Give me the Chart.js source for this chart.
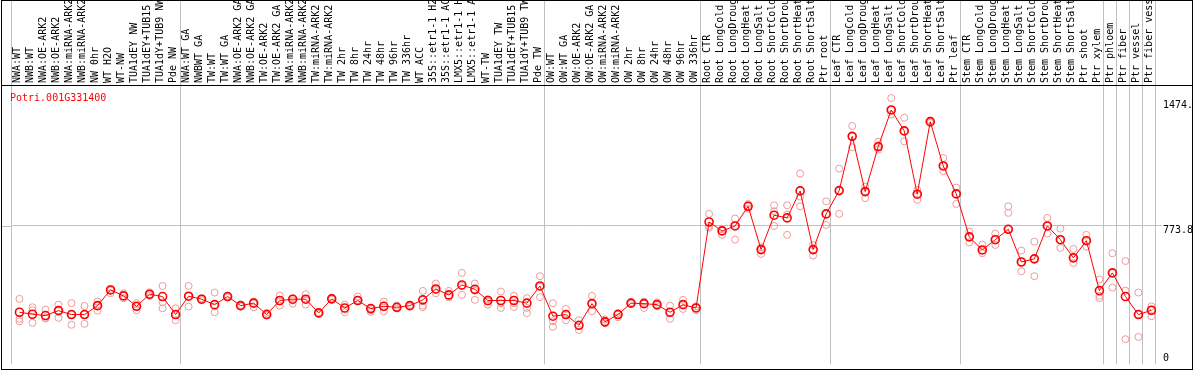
<!DOCTYPE html>
<html>
<head>
<meta charset="utf-8">
<script src="https://cdn.jsdelivr.net/npm/chart.js@4.4.1/dist/chart.umd.min.js"></script>
<style>
  html, body { margin: 0; padding: 0; background: #fff; }
  canvas { display: block; }
</style>
</head>
<body>
<canvas id="chart" width="1194" height="370"></canvas>
<script>
let geneName = "Potri.001G331400";

let sampleLabels = [
  "NWA:WT", "NWB:WT", "NWA:OE-ARK2", "NWB:OE-ARK2", "NWA:miRNA-ARK2", "NWB:miRNA-ARK2",
  "NW 0hr", "WT H2O", "WT-NW", "TUA1dEY NW", "TUA1dEY+TUB15", "TUA1dY+TUB9 NW", "Pde NW",
  "NWA:WT GA", "NWBWT GA", "TW:WT", "TW:WT GA", "NWA:OE-ARK2 GA", "NWB:OE-ARK2 GA",
  "TW:OE-ARK2", "TW:OE-ARK2 GA", "NWA:miRNA-ARK2", "NWB:miRNA-ARK2", "TW:miRNA-ARK2",
  "TW:miRNA-ARK2", "TW 2hr", "TW 8hr", "TW 24hr", "TW 48hr", "TW 96hr", "TW 336hr",
  "WT ACC", "35S::etr1-1 H2", "35S::etr1-1 AC", "LMX5::etr1-1 H", "LMX5::etr1-1 A",
  "WT-TW", "TUA1dEY TW", "TUA1dEY+TUB15", "TUA1dY+TUB9 TW", "Pde TW",
  "OW:WT", "OW:WT GA", "OW:OE-ARK2", "OW:OE-ARK2 GA", "OW:miRNA-ARK2", "OW:miRNA-ARK2",
  "OW 2hr", "OW 8hr", "OW 24hr", "OW 48hr", "OW 96hr", "OW 336hr",
  "Root CTR", "Root LongCold", "Root LongDroug", "Root LongHeat", "Root LongSalt",
  "Root ShortCold", "Root ShortDrou", "Root ShortHeat", "Root ShortSalt", "Ptr root",
  "Leaf CTR", "Leaf LongCold", "Leaf LongDroug", "Leaf LongHeat", "Leaf LongSalt",
  "Leaf ShortCold", "Leaf ShortDrou", "Leaf ShortHeat", "Leaf ShortSalt", "Ptr leaf",
  "Stem CTR", "Stem LongCold", "Stem LongDroug", "Stem LongHeat", "Stem LongSalt",
  "Stem ShortCold", "Stem ShortDrou", "Stem ShortHeat", "Stem ShortSalt", "Ptr shoot",
  "Ptr xylem", "Ptr phloem", "Ptr fiber", "Ptr vessel", "Ptr fiber vess"
];

// first sample of each block (vertical separators)
let groupStarts = [0, 13, 41, 53, 63, 73, 84, 85, 86, 87];

let meanValues = [
  250, 238, 230, 260, 236, 236, 290, 385, 349, 286,
  359, 345, 236, 347, 329, 296, 345, 290, 305, 236,
  321, 329, 329, 246, 331, 276, 321, 272, 286, 280,
  290, 325, 391, 355, 415, 389, 321, 321, 321, 305,
  409, 226, 236, 171, 302, 192, 236, 305, 302, 296,
  250, 296, 276, 796, 742, 772, 891, 629, 837, 821,
  984, 629, 845, 986, 1314, 980, 1252, 1474, 1347, 964,
  1403, 1135, 966, 706, 627, 689, 752, 554, 573, 772,
  689, 579, 683, 381, 488, 345, 236, 262
];

let rep1 = [
  331, 280, 266, 296, 305, 288, 315, 391, 365, 305,
  371, 409, 274, 409, 335, 369, 350, 295, 315, 246,
  351, 335, 359, 250, 339, 296, 345, 276, 315, 290,
  295, 379, 424, 379, 488, 424, 329, 375, 349, 335,
  468, 305, 270, 202, 349, 206, 246, 310, 315, 310,
  290, 325, 286, 845, 752, 817, 905, 643, 897, 897,
  1089, 657, 921, 1119, 1377, 1010, 1282, 1546, 1427, 990,
  1410, 1183, 1004, 738, 659, 726, 891, 623, 677, 821,
  756, 633, 718, 448, 607, 560, 369, 286
];

let rep2 = [
  210, 262, 216, 260, 236, 236, 290, 381, 349, 286,
  359, 310, 236, 347, 329, 285, 345, 290, 305, 236,
  315, 321, 325, 246, 325, 266, 325, 262, 280, 280,
  290, 290, 385, 349, 409, 379, 315, 305, 305, 276,
  405, 196, 236, 171, 302, 192, 236, 305, 302, 296,
  250, 296, 276, 772, 742, 772, 891, 629, 861, 841,
  950, 629, 845, 986, 1314, 980, 1252, 1474, 1347, 964,
  1400, 1135, 966, 706, 627, 689, 851, 554, 573, 772,
  689, 579, 683, 349, 488, 381, 236, 262
];

let rep3 = [
  195, 186, 212, 216, 174, 180, 260, 365, 335, 262,
  349, 274, 202, 284, 322, 250, 340, 285, 280, 230,
  290, 302, 296, 240, 331, 250, 320, 252, 256, 272,
  285, 280, 365, 340, 355, 325, 296, 276, 282, 245,
  341, 162, 202, 143, 256, 183, 220, 300, 276, 286,
  210, 270, 262, 762, 718, 689, 877, 603, 772, 718,
  891, 593, 778, 845, 1248, 940, 1234, 1446, 1284, 930,
  1395, 1103, 905, 673, 607, 657, 752, 498, 468, 726,
  639, 548, 647, 335, 399, 87, 101, 226
];

let yTicks = [0, 773.8, 1474];
let yTickLabels = ["0", "773.8", "1474."];

const monoFont = { family: "'DejaVu Sans Mono', monospace", size: 10, lineHeight: 1 };

function toPoints(values) {
  return values.map((v, i) => ({ x: i, y: v })).filter(p => p.y != null);
}

function repDataset(values) {
  return {
    data: toPoints(values),
    xAxisID: "xd",
    showLine: false,
    pointRadius: 3.5,
    pointBorderWidth: 1,
    pointBorderColor: "#ee9a9a",
    pointBackgroundColor: "transparent",
    order: 2
  };
}

const framePlugin = {
  id: "frame",
  afterDraw(chart) {
    const ctx = chart.ctx;
    const yPix = Math.round(chart.scales.y.getPixelForValue(773.8)) + 0.5;
    ctx.save();
    // gray gridline stub left of first column
    ctx.strokeStyle = "#c0c0c0";
    ctx.lineWidth = 1;
    ctx.beginPath();
    ctx.moveTo(1.5, yPix);
    ctx.lineTo(chart.chartArea.left, yPix);
    ctx.stroke();
    // black frame
    ctx.strokeStyle = "#000";
    ctx.strokeRect(1.5, 0.5, 1191, 369);
    ctx.beginPath();
    ctx.moveTo(1.5, chart.chartArea.top + 0.5);
    ctx.lineTo(1192.5, chart.chartArea.top + 0.5);
    ctx.stroke();
    // gene name
    ctx.fillStyle = "#ff0000";
    ctx.font = "10px 'DejaVu Sans Mono', monospace";
    ctx.textBaseline = "top";
    ctx.fillText(geneName, 10, chart.chartArea.top + 8);
    ctx.restore();
  }
};

new Chart(document.getElementById("chart"), {
  type: "line",
  data: {
    labels: sampleLabels,
    datasets: [
      {
        data: toPoints(meanValues),
        xAxisID: "xd",
        borderColor: "#ff0000",
        borderWidth: 1,
        tension: 0,
        pointRadius: 4,
        pointBorderWidth: 1.6,
        pointBorderColor: "#ff0000",
        pointBackgroundColor: "transparent",
        order: 1
      },
      repDataset(rep1),
      repDataset(rep2),
      repDataset(rep3)
    ]
  },
  options: {
    responsive: false,
    devicePixelRatio: 1,
    animation: false,
    events: [],
    layout: { padding: { left: 11, right: 0, top: 0, bottom: 1 } },
    plugins: {
      legend: { display: false },
      tooltip: { enabled: false }
    },
    scales: {
      x: {
        type: "category",
        position: "top",
        offset: true,
        afterFit: s => { s.height = 85; },
        border: { display: false },
        grid: {
          offset: true,
          drawTicks: true,
          tickLength: 85,
          lineWidth: 1,
          color: c => (c.type !== "tick" || groupStarts.includes(c.index)) ? "#c0c0c0" : "transparent"
        },
        ticks: {
          autoSkip: false,
          minRotation: 90,
          maxRotation: 90,
          padding: -83,
          labelOffset: 10,
          color: "#000",
          font: monoFont
        }
      },
      xd: {
        type: "linear",
        axis: "x",
        display: false,
        min: -0.65,
        max: 87.35
      },
      y: {
        type: "linear",
        position: "right",
        min: -65.5,
        max: 1624.8,
        afterBuildTicks: s => { s.ticks = yTicks.map(v => ({ value: v })); },
        afterFit: s => {
          s.width = 38;
          s.paddingTop = 0;
          s.paddingBottom = 0;
        },
        border: { display: false },
        grid: {
          drawTicks: true,
          tickLength: 6,
          color: c => (c.tick && c.tick.value === 773.8) ? "#c0c0c0" : "transparent"
        },
        ticks: {
          padding: 1,
          color: "#000",
          font: monoFont,
          callback: (v, i) => i === 2 ? [yTickLabels[i], ""] : ["", yTickLabels[i]]
        }
      }
    }
  },
  plugins: [framePlugin]
});
</script>
</body>
</html>
